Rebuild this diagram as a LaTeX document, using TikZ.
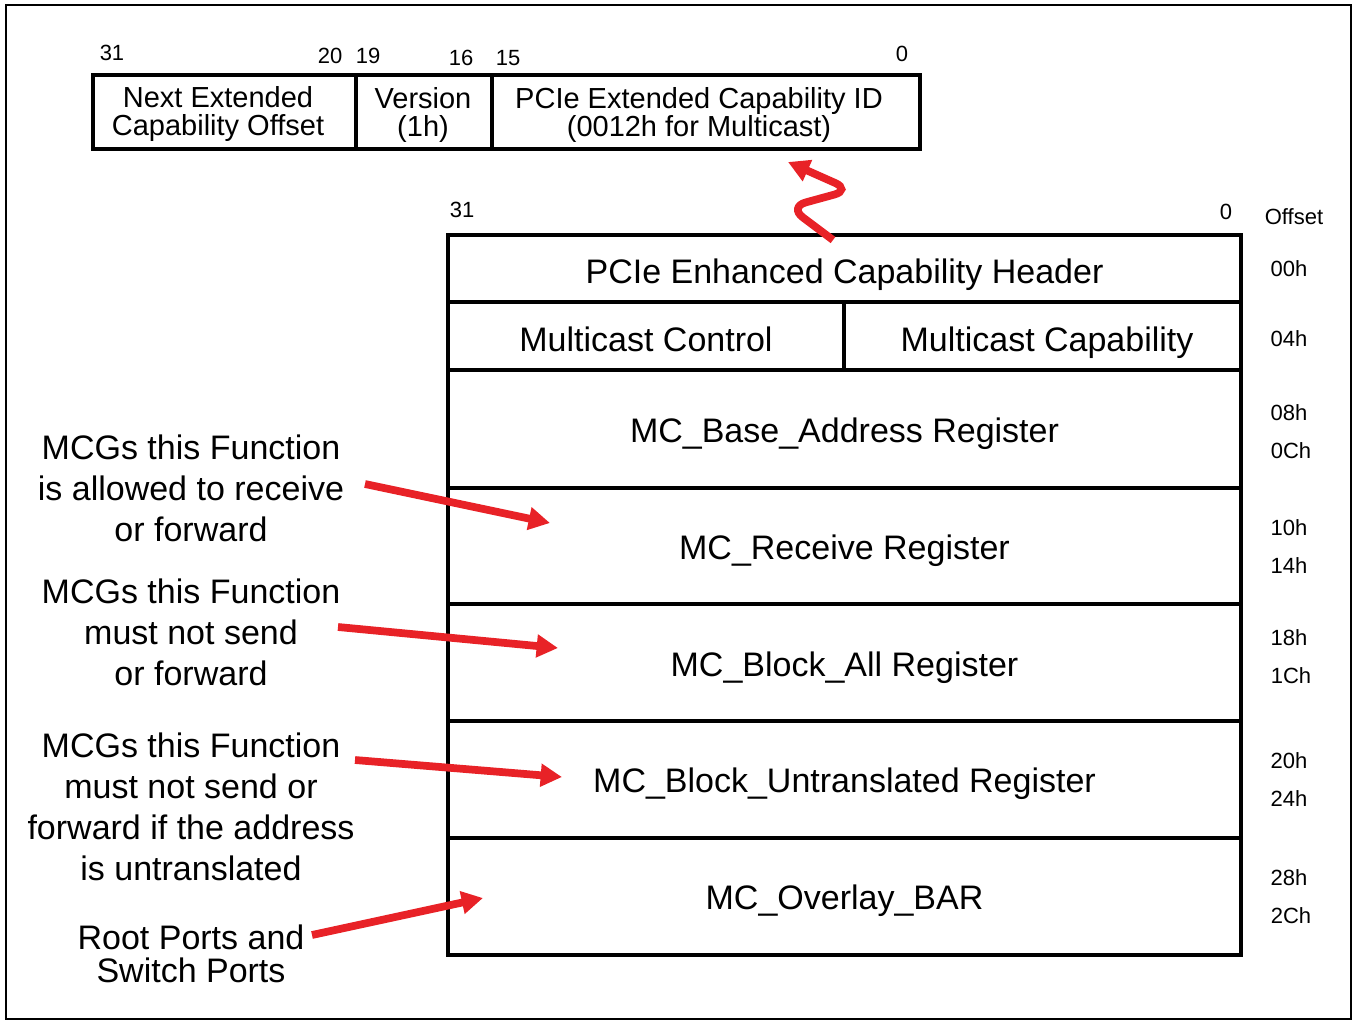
\documentclass[tikz,border=0pt]{standalone}
\usepackage{fontspec}
\setmainfont{Liberation Sans}
\usetikzlibrary{arrows.meta}
\definecolor{arrred}{RGB}{232,34,39}
\begin{document}
\begin{tikzpicture}[x=0.75pt,y=-0.75pt,
  big/.style={font=\fontsize{25.5}{30.75}\selectfont, inner sep=0pt},
  rowtext/.style={big, anchor=base},
  note/.style={big, align=center},
  hdrtxt/.style={font=\fontsize{21.75}{21}\selectfont, align=center, inner sep=0pt},
  small/.style={font=\fontsize{16.5}{18}\selectfont, inner sep=0pt},
  tbl/.style={line width=3pt},
  hbox/.style={line width=2.4pt},
  redarrow/.style={draw=arrred, line width=5.8pt, -{Triangle[length=16pt,width=16.5pt]}}]
\useasboundingbox (0,0) rectangle (1358,1024);
\draw[line width=1.5pt] (6,5) rectangle (1351,1019);

% ---- top header layout ----
\draw[hbox] (93,75) rectangle (920,149);
\draw[hbox] (356,75) -- (356,149);
\draw[hbox] (492,75) -- (492,149);
\node[hdrtxt] (next) at (218,114) {Next Extended\\Capability Offset};
\node[hdrtxt] (ver) at (423,115) {Version\\(1h)};
\node[hdrtxt] (capid) at (699,115) {PCIe Extended Capability ID\\(0012h for Multicast)};
\node[small] (b31) at (112,53) {31};
\node[small] (b20) at (330,56) {20};
\node[small] (b19) at (368,56) {19};
\node[small] (b16) at (461,58) {16};
\node[small] (b15) at (508,58) {15};
\node[small] (b0) at (902,54) {0};

% ---- main table ----
\draw[tbl] (448,235) rectangle (1241,955);
\foreach \yy in {302,370,488,604,721,838} \draw[tbl] (448,\yy) -- (1241,\yy);
\draw[tbl] (844,302) -- (844,370);
\node[small] (m31) at (462,210) {31};
\node[small] (m0) at (1226,212) {0};
\node[small] (off) at (1294,217) {Offset};

\node[rowtext] (hdr) at (844.5,283) {PCIe Enhanced Capability Header};
\node[rowtext] (mcc) at (646,351) {Multicast Control};
\node[rowtext] (mccap) at (1047,351) {Multicast Capability};
\node[rowtext] (base) at (844.5,442) {MC\_Base\_Address Register};
\node[rowtext] (recv) at (844.5,559) {MC\_Receive Register};
\node[rowtext] (blk) at (844.5,676) {MC\_Block\_All Register};
\node[rowtext] (blku) at (844.5,792) {MC\_Block\_Untranslated Register};
\node[rowtext] (ovl) at (844.5,909) {MC\_Overlay\_BAR};

% offsets
\node[small] (o00) at (1289,269) {00h};
\node[small] (o04) at (1289,339) {04h};
\node[small] (o08) at (1289,413) {08h};
\node[small] (o0C) at (1291,451) {0Ch};
\node[small] (o10) at (1289,528) {10h};
\node[small] (o14) at (1289,566) {14h};
\node[small] (o18) at (1289,638) {18h};
\node[small] (o1C) at (1291,676) {1Ch};
\node[small] (o20) at (1289,761) {20h};
\node[small] (o24) at (1289,799) {24h};
\node[small] (o28) at (1289,878) {28h};
\node[small] (o2C) at (1291,916) {2Ch};

% ---- left notes ----
\node[note] (n1) at (191,488) {MCGs this Function\\is allowed to receive\\or forward};
\node[note] (n2) at (191,632) {MCGs this Function\\must not send\\or forward};
\node[note] (n3) at (191,807) {MCGs this Function\\must not send or\\forward if the address\\is untranslated};
\node[big, align=center, font=\fontsize{25.5}{24.75}\selectfont] (n4) at (191,954) {Root Ports and\\Switch Ports};

% ---- arrows ----
\coordinate (s1) at (365,484); \coordinate (t1) at (550,523);
\coordinate (s2) at (338,627); \coordinate (t2) at (558,648);
\coordinate (s3) at (355,760); \coordinate (t3) at (562,777);
\coordinate (s4) at (312,935); \coordinate (t4) at (483,898);
\draw[redarrow] (s1) -- (t1);
\draw[redarrow] (s2) -- (t2);
\draw[redarrow] (s3) -- (t3);
\draw[redarrow] (s4) -- (t4);

\coordinate (qa) at (833,240);
\coordinate (qb) at (789,207);
\coordinate (qc) at (851,190);
\coordinate (qd) at (788,162);
\draw[redarrow, rounded corners=13pt] (qa) -- (qb) -- (qc) -- (qd);
\end{tikzpicture}
\end{document}
